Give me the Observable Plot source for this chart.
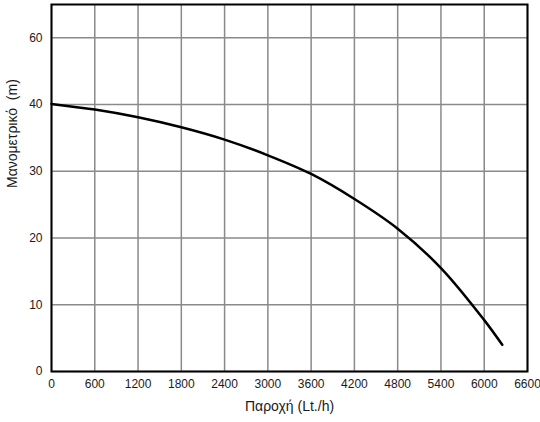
<!DOCTYPE html>
<html>
<head>
<meta charset="utf-8">
<script src="https://cdn.jsdelivr.net/npm/d3@7"></script>
<script src="https://cdn.jsdelivr.net/npm/@observablehq/plot@0.6"></script>
<style>
  html, body { margin: 0; padding: 0; background: #fff; }
</style>
</head>
<body>
<div id="chart"></div>
<script>
// Curve data (flow in Lt./h, head in m)
const flow = [0, 600, 1200, 1800, 2400, 3000, 3600, 4200, 4800, 5400, 6000, 6250];
const head = [40.1, 39.25, 38.1, 36.6, 34.75, 32.4, 29.6, 25.85, 21.4, 15.5, 7.7, 4.0];

// Axis ticks and labels
const xTicks = [0, 600, 1200, 1800, 2400, 3000, 3600, 4200, 4800, 5400, 6000, 6600];
const yTicks = [0, 10, 20, 30, 40, 50];
const yTickLabels = ["0", "10", "20", "30", "40", "60"];
const xTitle = "Παροχή (Lt./h)";
const yTitle = "Μανομετρικό\u00a0 (m)";

const data = flow.map((f, i) => ({flow: f, head: head[i]}));

const chart = Plot.plot({
  width: 540,
  height: 422,
  marginLeft: 51,
  marginRight: 13,
  marginTop: 4,
  marginBottom: 51,
  style: {fontFamily: "'Liberation Sans', Arial, sans-serif", fontSize: "12px", color: "#1a1a1a", background: "#fff", overflow: "visible"},
  x: {domain: [0, 6600]},
  y: {domain: [0, 55]},
  marks: [
    Plot.ruleX(xTicks, {stroke: "#8a8a8a", strokeWidth: 1.5}),
    Plot.ruleY(yTicks, {stroke: "#8a8a8a", strokeWidth: 1.5}),
    Plot.frame({stroke: "#000", strokeWidth: 2}),
    Plot.line(data, {x: "flow", y: "head", curve: "catmull-rom", stroke: "#000", strokeWidth: 2.5}),
    Plot.axisX(xTicks, {tickSize: 0, tickPadding: 8, label: null, fontSize: 12,
      tickFormat: (d) => String(d)}),
    Plot.axisY(yTicks, {tickSize: 0, tickPadding: 9, label: null, fontSize: 12,
      tickFormat: (d) => yTickLabels[yTicks.indexOf(d)]}),
    Plot.text([xTitle], {frameAnchor: "bottom", dy: 39, fontSize: 14, fill: "#1a1a1a"}),
    Plot.text([yTitle], {frameAnchor: "left", dx: -39, rotate: -90, fontSize: 14, fill: "#1a1a1a"})
  ]
});
document.getElementById("chart").appendChild(chart);
</script>
</body>
</html>
